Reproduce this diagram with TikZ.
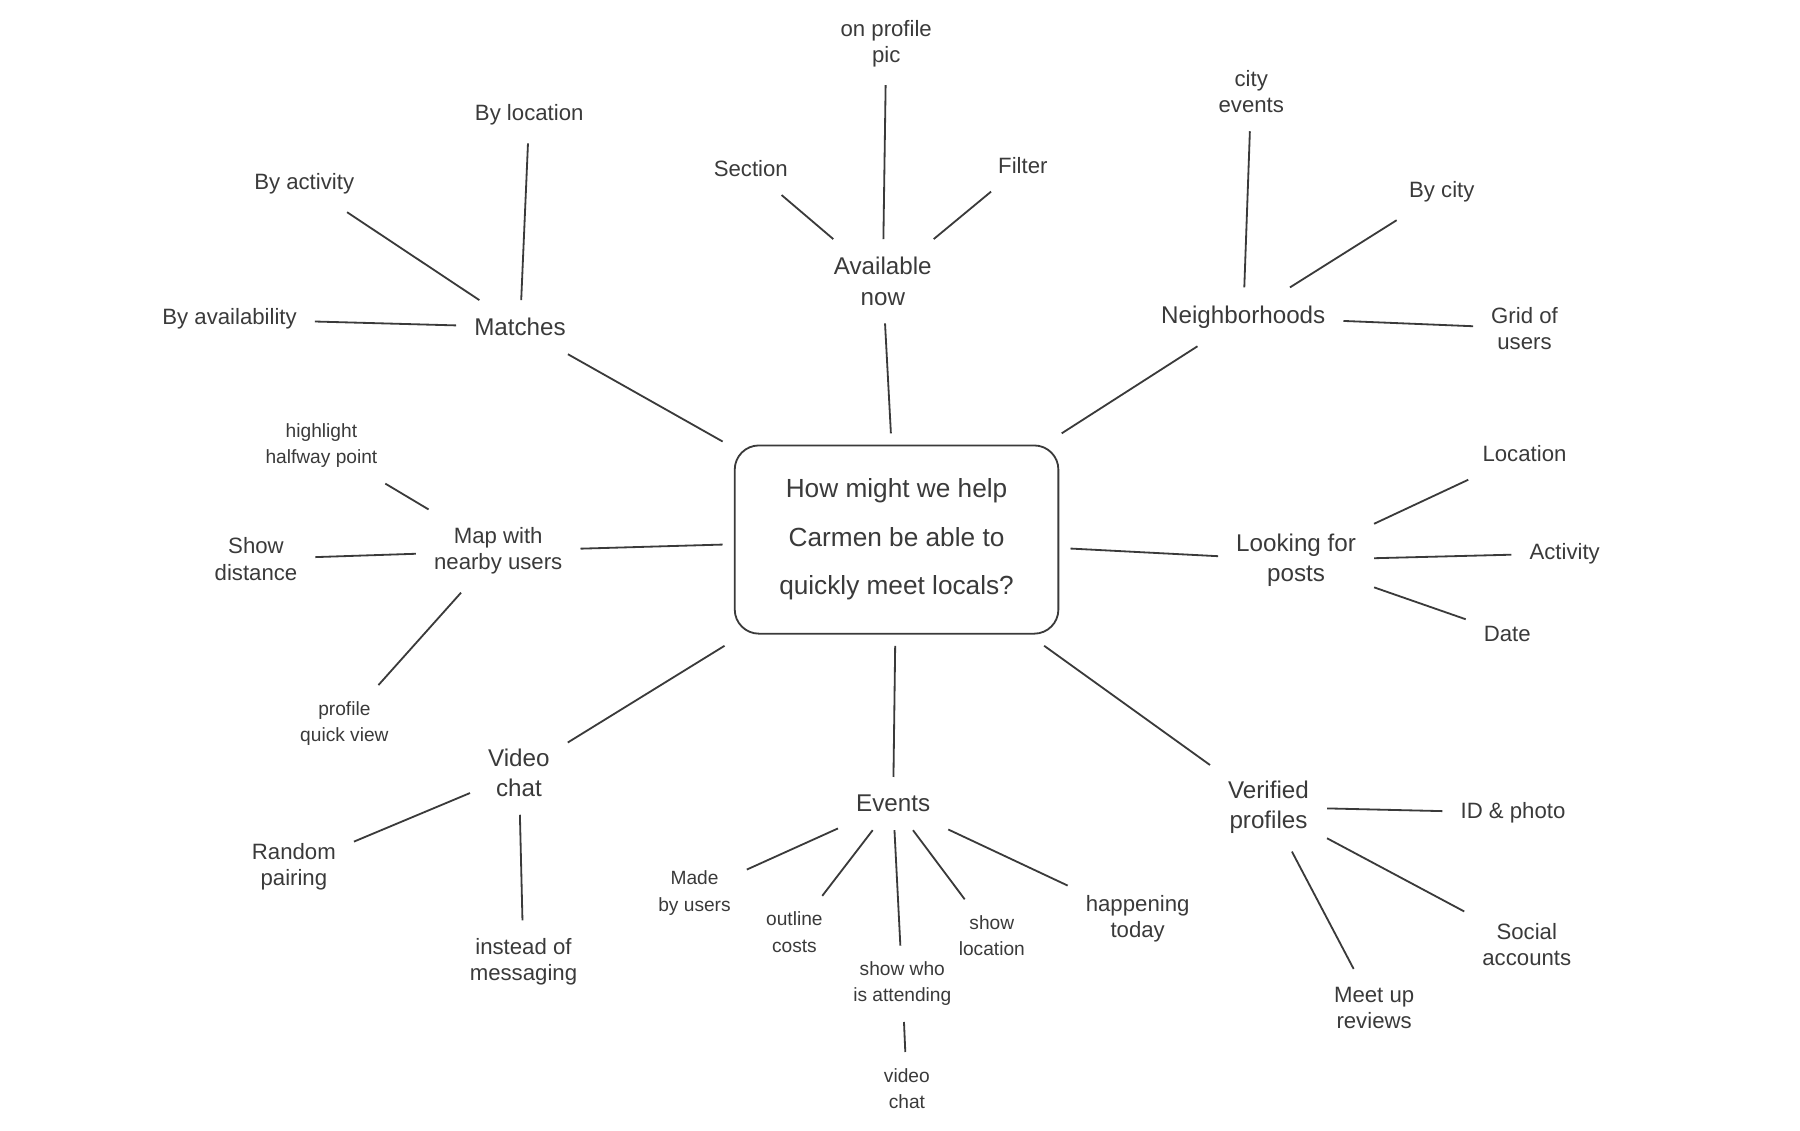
\documentclass[tikz,border=0pt]{standalone}
\usepackage{fontspec}
\setmainfont{Liberation Sans}
\usepackage{xcolor}
\definecolor{pencil}{HTML}{3A3A3A}

\begin{document}
\begin{tikzpicture}[
  x=0.02cm, y=-0.02cm,
  line width=0.9pt,
  question/.style={rectangle, draw=pencil, rounded corners=12pt, minimum width=5.64cm, minimum height=3.28cm, align=center, outer sep=6pt, text=pencil, font=\fontsize{13}{24}\selectfont},
  hub/.style={align=center, inner sep=3pt, outer sep=6pt, text=pencil, font=\fontsize{12}{15}\selectfont},
  leaf/.style={align=center, inner sep=3pt, outer sep=6pt, text=pencil, font=\fontsize{11}{13}\selectfont},
  small/.style={align=center, inner sep=3pt, outer sep=5pt, text=pencil, font=\fontsize{9.5}{13}\selectfont},
  link/.style={draw=pencil, line width=0.9pt}
]
  \useasboundingbox (0,0) rectangle (1568,985);
  \node[question] (q) at (781,470) {How might we help\\Carmen be able to\\quickly meet locals?};

  % matches
  \node[hub] (matches) at (453,285) {Matches};
  \node[leaf] (byloc) at (461,100) {By location};
  \node[leaf] (byact) at (265,160) {By activity};
  \node[leaf] (byavail) at (200,278) {By availability};

  % available now
  \node[hub] (avail) at (769,245) {Available\\now};
  \node[leaf] (profpic) at (772,38) {on profile\\pic};
  \node[leaf] (section) at (654,147) {Section};
  \node[leaf] (filter) at (891,144) {Filter};

  % neighborhoods
  \node[hub] (hoods) at (1083,276) {Neighborhoods};
  \node[leaf] (cityev) at (1090,80) {city\\events};
  \node[leaf] (bycity) at (1256,167) {By city};
  \node[leaf] (grid) at (1328,286) {Grid of\\users};

  % looking for posts
  \node[hub] (posts) at (1129,488) {Looking for\\posts};
  \node[leaf] (location) at (1328,395) {Location};
  \node[leaf] (activity) at (1363,482) {Activity};
  \node[leaf] (date) at (1313,552) {Date};

  % verified profiles
  \node[hub] (verified) at (1105,703) {Verified\\profiles};
  \node[leaf] (idphoto) at (1318,708) {ID \& photo};
  \node[leaf] (social) at (1330,823) {Social\\accounts};
  \node[leaf] (meetup) at (1197,878) {Meet up\\reviews};

  % events
  \node[hub] (events) at (778,700) {Events};
  \node[small] (madeby) at (605,778) {Made\\by users};
  \node[small] (outline) at (692,812) {outline\\costs};
  \node[small] (showwho) at (786,857) {show who\\is attending};
  \node[small] (showloc) at (864,815) {show\\location};
  \node[leaf] (today) at (991,800) {happening\\today};
  \node[small] (eventchat) at (790,948) {video\\chat};

  % video chat
  \node[hub] (video) at (452,673) {Video\\chat};
  \node[leaf] (random) at (256,755) {Random\\pairing};
  \node[leaf] (instead) at (456,838) {instead of\\messaging};

  % map
  \node[leaf] (map) at (434,480) {Map with\\nearby users};
  \node[small] (halfway) at (280,388) {highlight\\halfway point};
  \node[leaf] (distance) at (223,487) {Show\\distance};
  \node[small] (quickview) at (300,630) {profile\\quick view};

  \draw[link] (q) -- (matches) (q) -- (avail) (q) -- (hoods) (q) -- (posts)
              (q) -- (verified) (q) -- (events) (q) -- (video) (q) -- (map);
  \draw[link] (matches) -- (byloc) (matches) -- (byact) (matches) -- (byavail);
  \draw[link] (avail) -- (profpic) (avail) -- (section) (avail) -- (filter);
  \draw[link] (hoods) -- (cityev) (hoods) -- (bycity) (hoods) -- (grid);
  \draw[link] (posts) -- (location) (posts) -- (activity) (posts) -- (date);
  \draw[link] (verified) -- (idphoto) (verified) -- (social) (verified) -- (meetup);
  \draw[link] (events) -- (madeby) (events) -- (outline) (events) -- (showwho)
              (events) -- (showloc) (events) -- (today);
  \draw[link] (showwho) -- (eventchat);
  \draw[link] (video) -- (random) (video) -- (instead);
  \draw[link] (map) -- (halfway) (map) -- (distance) (map) -- (quickview);
\end{tikzpicture}
\end{document}
